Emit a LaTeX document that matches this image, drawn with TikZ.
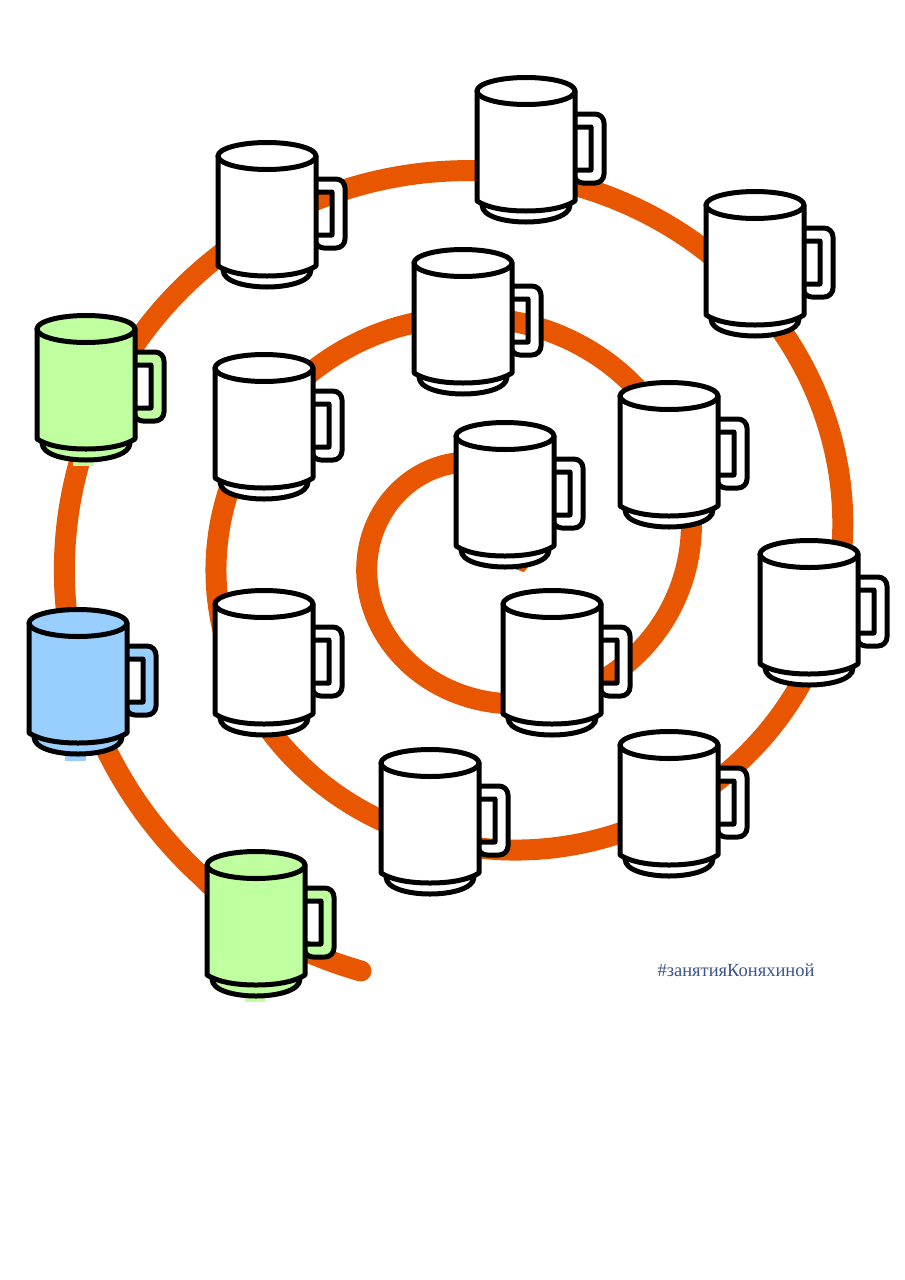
\documentclass[tikz,border=0pt]{standalone}
\usepackage{fontspec}
\setmainfont{Liberation Serif}
\definecolor{spiralc}{HTML}{E85600}
\definecolor{greenc}{HTML}{BFFFA0}
\definecolor{bluec}{HTML}{99CFFF}
\definecolor{tagc}{HTML}{3B5488}
\tikzset{
  mugline/.style={draw=black,line width=5pt,line join=round},
  mug/.pic={
    % handle, the hole stays open
    \path[mugline,fill=#1,even odd rule]
       [rounded corners=9pt] (48,37) -- (78,37) -- (78,106) -- (48,106) [sharp corners] -- cycle
       (48,50) -- (65,50) -- (65,93) -- (48,93) -- cycle;
    % foot, body and rim
    \path[mugline,fill=#1] (-44,128) .. controls (-44,140) and (-20,145) .. (0,145)
       .. controls (20,145) and (44,140) .. (44,128) -- cycle;
    \path[mugline,fill=#1] (-49,14) -- (-49,124) .. controls (-38,131) and (-20,134) .. (0,134)
       .. controls (20,134) and (38,131) .. (49,124) -- (49,14) -- cycle;
    \path[mugline,fill=#1] (0,14) ellipse [x radius=49,y radius=13.5];
  }
}
\begin{document}
\begin{tikzpicture}[x=1pt,y=-1pt]
  \useasboundingbox (0,0) rectangle (905,1280);
  % the spiral grows 152 per turn, its tail runs out flatter
  \draw[spiralc,line width=21pt,line cap=round] plot[domain=255:-590,samples=320,smooth]
     ({491.5+(122.5+(180-\x)*0.4222)*cos(\x)},{547+0.967*(122.5+(180-\x)*0.4222)*sin(\x)})
     .. controls (250,925) and (295,952) .. (361,971);
  \fill[spiralc] (515,569) -- (528,567) -- (524,572) -- cycle;
  \fill[greenc] (73,458) rectangle (93,466);
  \fill[greenc] (245,994) rectangle (265,1002);
  \fill[bluec] (65,752) rectangle (86,761);
  \foreach \x/\y/\c in {526/77/white,267/142/white,755/191/white,463/249/white,
      86/315/greenc,264/354/white,669/382/white,505/422/white,809/540/white,
      552/590/white,264/590/white,78/609/bluec,669/731/white,430/749/white,
      256/851/greenc}{
    \pic at (\x,\y) {mug=\c};
  }
  \node[text=tagc,font=\fontsize{18.5}{22}\selectfont,inner sep=0pt] (tag) at (736,970) {\#занятияКоняхиной};
\end{tikzpicture}
\end{document}
